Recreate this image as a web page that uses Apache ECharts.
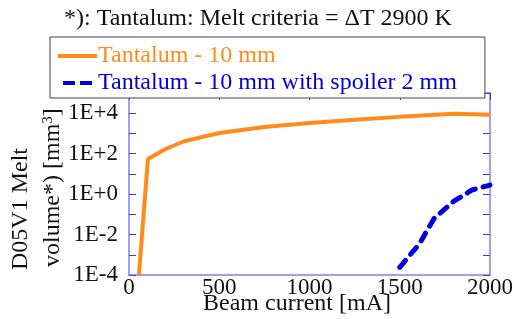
<!DOCTYPE html>
<html>
<head>
<meta charset="utf-8">
<script src="https://cdn.jsdelivr.net/npm/echarts@6/dist/echarts.min.js"></script>
<style>
  html, body { margin: 0; padding: 0; background: #fff; }
  #grafico { width: 516px; height: 319px; }
</style>
</head>
<body>
<div id="grafico"></div>
<script>
// beam current [mA] and melt volume [mm3]
var tantalumX = [55, 105, 200, 300, 500, 750, 1000, 1250, 1500, 1800, 2000];
var tantalumY = [1e-4, 55, 165, 400, 1050, 2100, 3300, 4800, 6600, 9500, 8500];

var spoilerX = [1500, 1610, 1690, 1800, 1900, 2000];
var spoilerY = [2.4e-4, 3.6e-3, 6.2e-2, 0.45, 1.6, 2.8];

var seriesNames = ['Tantalum - 10 mm', 'Tantalum - 10 mm with spoiler 2 mm'];
var xTicks = [0, 500, 1000, 1500, 2000];

function pairs(xs, ys) {
    return xs.map(function (x, i) { return [x, ys[i]]; });
}

var font = 'Liberation Serif';
var axisBlue = '#8080f2';
var tickBlue = '#3c3ce6';
var orange = '#ff8c1a';
var blue = '#0000dd';

var chartDom = document.getElementById('grafico');
var myChart = echarts.init(chartDom);

var frameLine = { show: true, onZero: false, lineStyle: { color: axisBlue, width: 1.5 } };

var option = {
    animation: false,
    textStyle: { fontFamily: font },
    title: {
        text: '*): Tantalum: Melt criteria = ΔT 2900 K',
        left: 'center',
        top: 7,
        padding: 0,
        textStyle: { fontFamily: font, fontSize: 24, fontWeight: 'normal', color: '#111' }
    },
    legend: {
        orient: 'vertical',
        left: 50,
        top: 37,
        padding: [7, 28, 3, 8],
        itemGap: 3,
        itemWidth: 39,
        itemHeight: 4,
        borderColor: '#444',
        borderWidth: 1,
        backgroundColor: '#fff',
        textStyle: { fontFamily: font, fontSize: 24, padding: [0, 0, 0, -4] },
        data: [
            { name: seriesNames[0], icon: 'rect', textStyle: { color: orange } },
            { name: seriesNames[1], icon: 'path://M8,0h12v4h-12z M25,0h12v4h-12z', textStyle: { color: blue } }
        ]
    },
    grid: { left: 129, right: 23, top: 93, bottom: 44 },
    xAxis: [{
        type: 'value',
        min: 0,
        max: 2000,
        interval: 500,
        axisLine: frameLine,
        axisTick: { show: false },
        splitLine: { show: false },
        axisLabel: {
            fontFamily: font, fontSize: 23, color: '#111', margin: 1,
            formatter: function (v) { return xTicks.indexOf(v) >= 0 ? String(v) : ''; }
        }
    }, {
        type: 'value',
        position: 'top',
        min: 0,
        max: 2000,
        interval: 500,
        axisLine: frameLine,
        axisTick: { show: true, inside: true, length: 7, lineStyle: { color: tickBlue } },
        axisLabel: { show: false },
        splitLine: { show: false }
    }],
    yAxis: [{
        type: 'log',
        logBase: 10,
        min: 1e-4,
        max: 1e5,
        splitNumber: 9,
        axisLine: frameLine,
        axisTick: { show: true, inside: true, length: 7, lineStyle: { color: tickBlue } },
        splitLine: { show: false },
        axisLabel: {
            fontFamily: font, fontSize: 23, color: '#111', margin: 11,
            formatter: function (v) {
                var e = Math.round(Math.log10(v));
                if (e % 2 !== 0 || e > 4) return '';
                return '1E' + (e >= 0 ? '+' : '-') + Math.abs(e);
            }
        }
    }, {
        type: 'log',
        logBase: 10,
        min: 1e-4,
        max: 1e5,
        splitNumber: 9,
        position: 'right',
        axisLine: frameLine,
        axisTick: { show: true, inside: true, length: 7, lineStyle: { color: tickBlue } },
        axisLabel: { show: false },
        splitLine: { show: false }
    }],
    graphic: [{
        type: 'text',
        x: 21,
        y: 270,
        rotation: Math.PI / 2,
        style: {
            text: 'D05V1 Melt',
            font: '24px "Liberation Serif"',
            fill: '#111',
            textAlign: 'left',
            textVerticalAlign: 'middle'
        }
    }, {
        type: 'text',
        x: 53,
        y: 267,
        rotation: Math.PI / 2,
        style: {
            text: 'volume*) [mm{sup|3}]',
            font: '24px "Liberation Serif"',
            fill: '#111',
            textAlign: 'left',
            textVerticalAlign: 'middle',
            rich: {
                sup: { fontSize: 15, verticalAlign: 'top', padding: [0, 0, 10, 0], fill: '#111', fontFamily: font }
            }
        }
    }, {
        type: 'text',
        x: 297,
        y: 304,
        style: {
            text: 'Beam current [mA]',
            font: '24px "Liberation Serif"',
            fill: '#111',
            textAlign: 'center',
            textVerticalAlign: 'middle'
        }
    }],
    series: [{
        name: seriesNames[0],
        type: 'line',
        data: pairs(tantalumX, tantalumY),
        showSymbol: false,
        symbol: 'none',
        color: orange,
        lineStyle: { width: 4, color: orange }
    }, {
        name: seriesNames[1],
        type: 'line',
        data: pairs(spoilerX, spoilerY),
        showSymbol: false,
        symbol: 'none',
        color: blue,
        lineStyle: { width: 5, color: blue, type: [9, 8], cap: 'round' }
    }]
};

myChart.setOption(option);
</script>
</body>
</html>
